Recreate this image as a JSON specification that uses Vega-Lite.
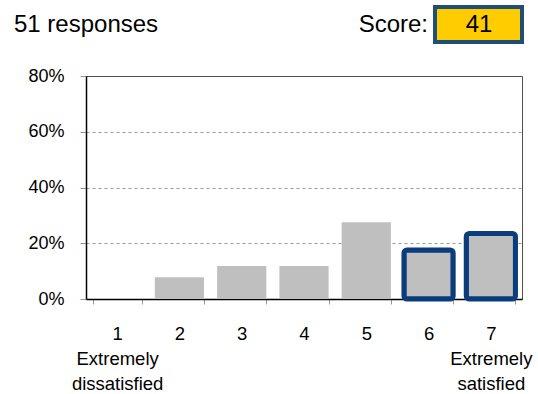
{
  "$schema": "https://vega.github.io/schema/vega-lite/v6.json",
  "width": 436,
  "height": 223,
  "autosize": {"type": "none"},
  "padding": {"left": 86, "top": 76, "right": 16, "bottom": 95},
  "config": {
    "font": "Liberation Sans",
    "view": {"stroke": "#505050", "strokeWidth": 1}
  },
  "resolve": {"scale": {"x": "independent"}, "axis": {"x": "independent"}},
  "layer": [
    {
      "data": {"values": [
        {"rating": 1, "share": 0.0},
        {"rating": 2, "share": 0.078},
        {"rating": 3, "share": 0.118},
        {"rating": 4, "share": 0.118},
        {"rating": 5, "share": 0.275},
        {"rating": 6, "share": 0.176},
        {"rating": 7, "share": 0.235}
      ]},
      "layer": [
        {
          "mark": {"type": "bar", "color": "#BFBFBF"},
          "encoding": {
            "x": {
              "field": "rating", "type": "ordinal",
              "scale": {"paddingInner": 0.21, "paddingOuter": 0.105},
              "axis": {
                "title": null, "labelAngle": 0, "tickBand": "extent",
                "domainColor": "#000000", "domainWidth": 1.5,
                "tickColor": "#999999", "tickSize": 5,
                "labelFontSize": 18.5, "labelColor": "#000000",
                "labelPadding": 20, "labelBaseline": "top",
                "labelLineHeight": 25, "labelOverlap": false, "labelBound": false,
                "labelExpr": "datum.label == '1' ? ['1', 'Extremely', 'dissatisfied'] : datum.label == '7' ? ['7', 'Extremely', 'satisfied'] : datum.label"
              }
            },
            "y": {
              "field": "share", "type": "quantitative",
              "scale": {"domain": [0, 0.8], "nice": false},
              "axis": {
                "title": null, "format": ".0%", "values": [0, 0.2, 0.4, 0.6, 0.8],
                "domainColor": "#000000", "domainWidth": 1.5,
                "tickColor": "#999999", "tickSize": 6,
                "labelFontSize": 18, "labelColor": "#000000", "labelPadding": 16,
                "gridColor": "#999999", "gridDash": [3, 3], "gridWidth": 1,
                "gridOpacity": {"condition": {"test": "datum.value > 0 && datum.value < 0.8", "value": 1}, "value": 0}
              }
            }
          }
        },
        {
          "transform": [{"filter": "datum.rating >= 6"}],
          "mark": {"type": "bar", "color": "#BFBFBF", "stroke": "#0B3D7C", "strokeWidth": 5, "cornerRadius": 3, "strokeJoin": "round"},
          "encoding": {
            "x": {"field": "rating", "type": "ordinal"},
            "y": {"field": "share", "type": "quantitative"}
          }
        }
      ]
    },
    {
      "data": {"values": [{"label": "51 responses"}]},
      "mark": {"type": "text", "align": "left", "baseline": "alphabetic", "fontSize": 24, "color": "#000000"},
      "encoding": {
        "x": {"datum": -1.156, "type": "quantitative", "scale": {"domain": [0, 7], "nice": false, "zero": false}, "axis": null},
        "y": {"datum": 0.957, "type": "quantitative", "scale": {"domain": [0, 0.8], "nice": false}},
        "text": {"field": "label"}
      }
    },
    {
      "data": {"values": [{"label": "Score:"}]},
      "mark": {"type": "text", "align": "right", "baseline": "alphabetic", "fontSize": 24, "color": "#000000"},
      "encoding": {
        "x": {"datum": 5.491, "type": "quantitative", "scale": {"domain": [0, 7], "nice": false, "zero": false}, "axis": null},
        "y": {"datum": 0.957, "type": "quantitative", "scale": {"domain": [0, 0.8], "nice": false}},
        "text": {"field": "label"}
      }
    },
    {
      "data": {"values": [{"score": 41}]},
      "mark": {"type": "rect", "fill": "#FFCC00", "stroke": "#1F4E79", "strokeWidth": 4},
      "encoding": {
        "x": {"datum": 5.603, "type": "quantitative", "scale": {"domain": [0, 7], "nice": false, "zero": false}, "axis": null},
        "x2": {"datum": 7.0},
        "y": {"datum": 1.0475, "type": "quantitative", "scale": {"domain": [0, 0.8], "nice": false}},
        "y2": {"datum": 0.922}
      }
    },
    {
      "data": {"values": [{"score": 41}]},
      "mark": {"type": "text", "align": "center", "baseline": "alphabetic", "fontSize": 24, "color": "#000000"},
      "encoding": {
        "x": {"datum": 6.31, "type": "quantitative", "scale": {"domain": [0, 7], "nice": false, "zero": false}, "axis": null},
        "y": {"datum": 0.957, "type": "quantitative", "scale": {"domain": [0, 0.8], "nice": false}},
        "text": {"field": "score"}
      }
    }
  ]
}
